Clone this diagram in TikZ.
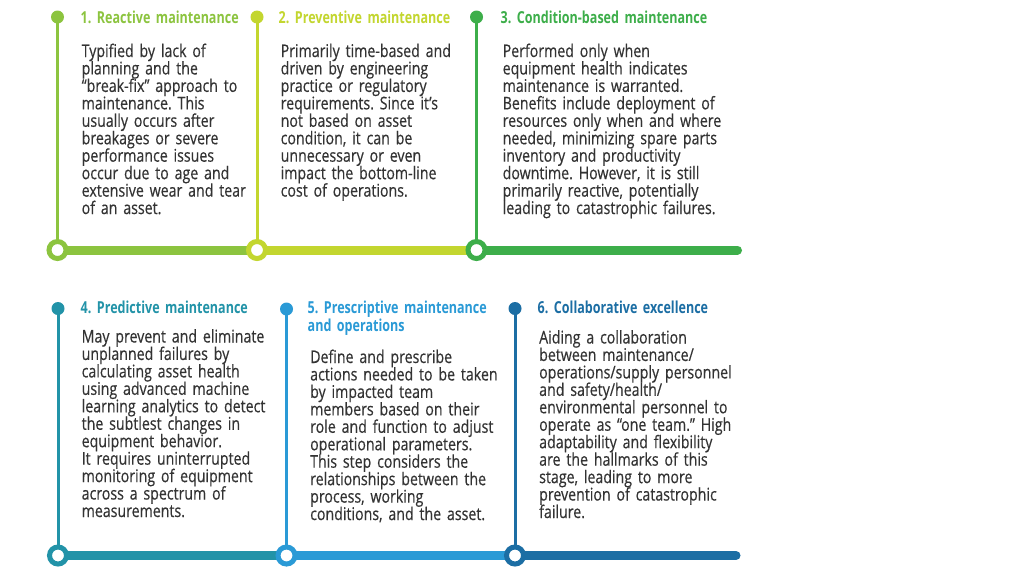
\documentclass[tikz,border=0pt]{standalone}
\usepackage{fontspec}
\setmainfont{Open Sans}
\newfontfamily\bodyfont[FakeStretch=0.81, FakeBold=0.4]{Open Sans}
\newfontfamily\titlefont[FakeStretch=0.76, BoldFont={Open Sans Bold}]{Open Sans}
\definecolor{cA}{HTML}{8CC43F}
\definecolor{cB}{HTML}{C3D62F}
\definecolor{cC}{HTML}{3DAE4A}
\definecolor{cD}{HTML}{2293A8}
\definecolor{cE}{HTML}{2A9AD6}
\definecolor{cF}{HTML}{1C6EA4}
\definecolor{txt}{HTML}{333333}
\tikzset{
  dotn/.style={circle, fill=#1, inner sep=0pt, minimum size=13pt},
  ringn/.style={circle, draw=#1, fill=white, line width=5pt, inner sep=0pt, minimum size=17pt},
  vline/.style={line width=3pt, draw=#1},
  barline/.style={line width=9pt, draw=#1},
  tightlines/.style={execute at begin node={\lineskiplimit=-20pt\relax\lineskip=0pt\relax}},
  ttl/.style={anchor=base west, inner sep=0pt, text width=300pt, align=left, tightlines,
    font=\frenchspacing\titlefont\bfseries\fontsize{16.5}{18.4}\selectfont, text=#1},
  bodytext/.style={anchor=base west, inner sep=0pt, text width=320pt, align=left, tightlines,
    font=\frenchspacing\bodyfont\fontsize{17.5}{17.45}\selectfont, text=txt}
}
\begin{document}
\begin{tikzpicture}[x=1pt,y=-1pt]
\useasboundingbox[fill=white] (0,0) rectangle (1024,576);
% top row
\node[dotn=cA] (d1) at (57.5,17) {};
\node[dotn=cB] (d2) at (257,17) {};
\node[dotn=cC] (d3) at (476.5,17) {};
\coordinate (r1) at (57.5,250);
\coordinate (r2) at (257,250);
\coordinate (r3) at (476.5,250);
\coordinate (e1) at (737.5,250);
\draw[vline=cA] (d1.center) -- (r1);
\draw[vline=cB] (d2.center) -- (r2);
\draw[vline=cC] (d3.center) -- (r3);
\draw[barline=cA] (r1) -- (r2);
\draw[barline=cB] (r2) -- (r3);
\draw[barline=cC, line cap=round] (r3) -- (e1);
\node[ringn=cA] (R1) at (r1) {};
\node[ringn=cB] (R2) at (r2) {};
\node[ringn=cC] (R3) at (r3) {};
% bottom row
\node[dotn=cD] (d4) at (58,308.5) {};
\node[dotn=cE] (d5) at (286.5,309) {};
\node[dotn=cF] (d6) at (515,308.5) {};
\coordinate (r4) at (58,555.5);
\coordinate (r5) at (286.5,555.5);
\coordinate (r6) at (515,555.5);
\coordinate (e2) at (736,555.5);
\draw[vline=cD] (d4.center) -- (r4);
\draw[vline=cE] (d5.center) -- (r5);
\draw[vline=cF] (d6.center) -- (r6);
\draw[barline=cD] (r4) -- (r5);
\draw[barline=cE] (r5) -- (r6);
\draw[barline=cF, line cap=round] (r6) -- (e2);
\node[ringn=cD] (R4) at (r4) {};
\node[ringn=cE] (R5) at (r5) {};
\node[ringn=cF] (R6) at (r6) {};
% titles
\node[ttl=cA] (t1) at (80.5,23.5) {1. Reactive maintenance};
\node[ttl=cB] (t2) at (278.5,23.5) {2. Preventive maintenance};
\node[ttl=cC] (t3) at (500.5,23.5) {3. Condition-based maintenance};
\node[ttl=cD] (t4) at (80.5,313.5) {4. Predictive maintenance};
\node[ttl=cE] (t5) at (307.5,313.5) {5. Prescriptive maintenance\\and operations};
\node[ttl=cF] (t6) at (537.5,313.5) {6. Collaborative excellence};
% bodies
\node[bodytext] (b1) at (81.5,57) {Typified by lack of\\planning and the\\“break-fix” approach to\\maintenance. This\\usually occurs after\\breakages or severe\\performance issues\\occur due to age and\\extensive wear and tear\\of an asset.};
\node[bodytext] (b2) at (280.5,57) {Primarily time-based and\\driven by engineering\\practice or regulatory\\requirements. Since it’s\\not based on asset\\condition, it can be\\unnecessary or even\\impact the bottom-line\\cost of operations.};
\node[bodytext] (b3) at (502.5,57) {Performed only when\\equipment health indicates\\maintenance is warranted.\\Benefits include deployment of\\resources only when and where\\needed, minimizing spare parts\\inventory and productivity\\downtime. However, it is still\\primarily reactive, potentially\\leading to catastrophic failures.};
\node[bodytext] (b4) at (81.5,342.5) {May prevent and eliminate\\unplanned failures by\\calculating asset health\\using advanced machine\\learning analytics to detect\\the subtlest changes in\\equipment behavior.\\It requires uninterrupted\\monitoring of equipment\\across a spectrum of\\measurements.};
\node[bodytext] (b5) at (310,363) {Define and prescribe\\actions needed to be taken\\by impacted team\\members based on their\\role and function to adjust\\operational parameters.\\This step considers the\\relationships between the\\process, working\\conditions, and the asset.};
\node[bodytext] (b6) at (539,343.5) {Aiding a collaboration\\between maintenance/\\operations/supply personnel\\and safety/health/\\environmental personnel to\\operate as “one team.” High\\adaptability and flexibility\\are the hallmarks of this\\stage, leading to more\\prevention of catastrophic\\failure.};
\end{tikzpicture}
\end{document}
